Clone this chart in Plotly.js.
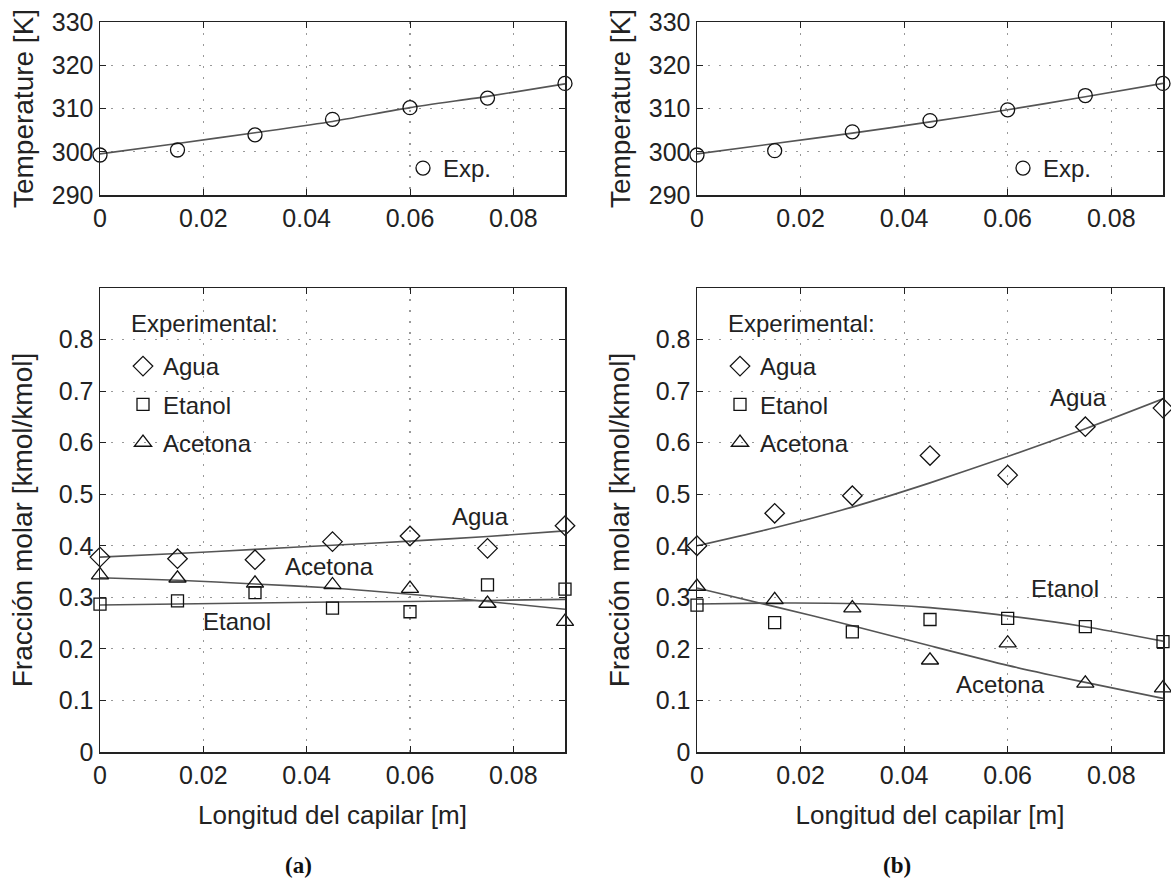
<!DOCTYPE html>
<html>
<head>
<meta charset="utf-8">
<script src="https://cdn.plot.ly/plotly-3.0.1.min.js"></script>
<style>html,body{margin:0;padding:0;background:#fff;}#chart{width:1171px;height:881px;}</style>
</head>
<body>
<div id="chart"></div>
<script>
// ---- data ----
const longitud = [0, 0.015, 0.03, 0.045, 0.06, 0.075, 0.09];

// (a) temperature
const tempExpA = [299.25, 300.4, 303.9, 307.5, 310.2, 312.4, 315.8];
const tempModA = [299.5, 301.9, 304.4, 307.0, 310.2, 312.8, 315.7];
// (b) temperature
const tempExpB = [299.25, 300.25, 304.6, 307.2, 309.7, 313.0, 315.8];
const tempModB = [299.5, 301.9, 304.3, 306.9, 309.7, 312.7, 315.8];

// (a) molar fractions
const aguaExpA    = [0.378, 0.375, 0.373, 0.408, 0.419, 0.395, 0.439];
const etanolExpA  = [0.287, 0.293, 0.309, 0.279, 0.272, 0.324, 0.316];
const acetonaExpA = [0.343, 0.337, 0.327, 0.324, 0.317, 0.288, 0.253];
const aguaModA    = [0.378, 0.385, 0.393, 0.401, 0.409, 0.418, 0.429];
const etanolModA  = [0.285, 0.287, 0.289, 0.291, 0.292, 0.294, 0.296];
const acetonaModA = [0.338, 0.333, 0.326, 0.318, 0.306, 0.292, 0.277];

// (b) molar fractions
const aguaExpB    = [0.400, 0.463, 0.497, 0.575, 0.537, 0.631, 0.667];
const etanolExpB  = [0.285, 0.251, 0.233, 0.257, 0.259, 0.243, 0.214];
const acetonaExpB = [0.321, 0.295, 0.279, 0.178, 0.211, 0.133, 0.124];
const aguaModB    = [0.400, 0.435, 0.475, 0.522, 0.573, 0.627, 0.685];
const etanolModB  = [0.287, 0.289, 0.288, 0.280, 0.264, 0.243, 0.215];
const acetonaModB = [0.318, 0.282, 0.245, 0.206, 0.168, 0.135, 0.104];

const xTicks = [0, 0.02, 0.04, 0.06, 0.08];
const tempTicks = [290, 300, 310, 320, 330];
const fracTicks = [0, 0.1, 0.2, 0.3, 0.4, 0.5, 0.6, 0.7, 0.8];

const nombres = {agua: 'Agua', etanol: 'Etanol', acetona: 'Acetona'};

// ---- styling ----
const FONT = 'Liberation Sans, Arial, Helvetica, sans-serif';
const lineStyle = {color: '#555', width: 1.6, shape: 'spline', smoothing: 0.6};
const mk = (symbol, size) => ({symbol: symbol, size: size, color: '#111', line: {color: '#111', width: 1.3}});

function modelTrace(y, xa, ya) {
  return {x: longitud, y: y, xaxis: xa, yaxis: ya, mode: 'lines', line: lineStyle, showlegend: false, hoverinfo: 'skip'};
}
function expTrace(y, xa, ya, name, symbol, size, legend, group) {
  return {x: longitud, y: y, xaxis: xa, yaxis: ya, mode: 'markers', name: name, cliponaxis: false,
          marker: mk(symbol, size), legend: legend, legendgroup: group, showlegend: true};
}

const data = [
  modelTrace(tempModA, 'x', 'y'),
  expTrace(tempExpA, 'x', 'y', 'Exp.', 'circle-open', 14, 'legend3', 'tA'),
  modelTrace(tempModB, 'x2', 'y2'),
  expTrace(tempExpB, 'x2', 'y2', 'Exp.', 'circle-open', 14, 'legend4', 'tB'),

  modelTrace(aguaModA, 'x3', 'y3'),
  modelTrace(etanolModA, 'x3', 'y3'),
  modelTrace(acetonaModA, 'x3', 'y3'),
  expTrace(aguaExpA, 'x3', 'y3', nombres.agua, 'diamond-open', 15, 'legend', 'aA'),
  expTrace(etanolExpA, 'x3', 'y3', nombres.etanol, 'square-open', 12, 'legend', 'eA'),
  expTrace(acetonaExpA, 'x3', 'y3', nombres.acetona, 'triangle-up-open', 15, 'legend', 'cA'),

  modelTrace(aguaModB, 'x4', 'y4'),
  modelTrace(etanolModB, 'x4', 'y4'),
  modelTrace(acetonaModB, 'x4', 'y4'),
  expTrace(aguaExpB, 'x4', 'y4', nombres.agua, 'diamond-open', 15, 'legend2', 'aB'),
  expTrace(etanolExpB, 'x4', 'y4', nombres.etanol, 'square-open', 12, 'legend2', 'eB'),
  expTrace(acetonaExpB, 'x4', 'y4', nombres.acetona, 'triangle-up-open', 15, 'legend2', 'cB')
];

const W = 1171, H = 881;
const px = v => v / W, py = v => 1 - v / H;

const tickFont = {family: FONT, size: 25, color: '#222'};
const xTitleFont = {family: FONT, size: 26, color: '#222'};
const yTitleFont = {family: FONT, size: 28, color: '#222'};

function xAxis(domain, anchor, withTitle) {
  const ax = {
    domain: domain, anchor: anchor, range: [0, 0.09], tickvals: xTicks,
    showgrid: true, gridcolor: '#999', griddash: '2px,9px', gridwidth: 1.2,
    showline: true, linecolor: '#222', linewidth: 1.5, mirror: 'ticks',
    ticks: 'inside', ticklen: 6, tickcolor: '#222', tickfont: tickFont, zeroline: false
  };
  if (withTitle) ax.title = {text: 'Longitud del capilar [m]', font: xTitleFont, standoff: 18};
  return ax;
}
function yAxis(domain, anchor, range, vals, title, standoff) {
  return {
    domain: domain, anchor: anchor, range: range, tickvals: vals,
    showgrid: true, gridcolor: '#999', griddash: '2px,9px', gridwidth: 1.2,
    showline: true, linecolor: '#222', linewidth: 1.5, mirror: 'ticks',
    ticks: 'inside', ticklen: 6, tickcolor: '#222', tickfont: tickFont, zeroline: false,
    title: {text: title, font: yTitleFont, standoff: standoff}
  };
}

const xL = [px(100), px(565)], xR = [px(697), px(1163)];
const yT = [py(195), py(22)], yB = [py(752), py(288)];

const legendFont = {family: FONT, size: 24, color: '#222'};
const baseLegend = {font: legendFont, bgcolor: 'rgba(0,0,0,0)', borderwidth: 0, xanchor: 'left', yanchor: 'top',
                    itemsizing: 'trace', tracegroupgap: 4};

const annFont = {family: FONT, size: 24, color: '#222'};
const labFont = {family: 'Liberation Serif, Times New Roman, serif', size: 23, color: '#111'};

const layout = {
  width: W, height: H,
  margin: {l: 0, r: 0, t: 0, b: 0},
  paper_bgcolor: '#fff', plot_bgcolor: '#fff',
  font: {family: FONT, color: '#222'},
  xaxis: xAxis(xL, 'y', false),
  yaxis: yAxis(yT, 'x', [290, 330], tempTicks, 'Temperature [K]', 10),
  xaxis2: xAxis(xR, 'y2', false),
  yaxis2: yAxis(yT, 'x2', [290, 330], tempTicks, 'Temperature [K]', 10),
  xaxis3: xAxis(xL, 'y3', true),
  yaxis3: yAxis(yB, 'x3', [0, 0.9], fracTicks, 'Fracción molar [kmol/kmol]', 18),
  xaxis4: xAxis(xR, 'y4', true),
  yaxis4: yAxis(yB, 'x4', [0, 0.9], fracTicks, 'Fracción molar [kmol/kmol]', 18),
  legend: Object.assign({}, baseLegend, {x: px(123), y: py(344)}),
  legend2: Object.assign({}, baseLegend, {x: px(720), y: py(344)}),
  legend3: Object.assign({}, baseLegend, {x: px(403), y: py(146), tracegroupgap: 0}),
  legend4: Object.assign({}, baseLegend, {x: px(1003), y: py(146), tracegroupgap: 0}),
  annotations: [
    {xref: 'paper', yref: 'paper', x: px(129), y: py(323), xanchor: 'left', yanchor: 'middle', text: 'Experimental:', showarrow: false, font: annFont},
    {xref: 'paper', yref: 'paper', x: px(726), y: py(323), xanchor: 'left', yanchor: 'middle', text: 'Experimental:', showarrow: false, font: annFont},
    {xref: 'x3', yref: 'y3', x: 0.0736, y: 0.456, text: nombres.agua, showarrow: false, font: annFont},
    {xref: 'x3', yref: 'y3', x: 0.0445, y: 0.359, text: nombres.acetona, showarrow: false, font: annFont},
    {xref: 'x3', yref: 'y3', x: 0.0265, y: 0.254, text: nombres.etanol, showarrow: false, font: annFont},
    {xref: 'x4', yref: 'y4', x: 0.0736, y: 0.687, text: nombres.agua, showarrow: false, font: annFont},
    {xref: 'x4', yref: 'y4', x: 0.0710, y: 0.318, text: nombres.etanol, showarrow: false, font: annFont},
    {xref: 'x4', yref: 'y4', x: 0.0587, y: 0.130, text: nombres.acetona, showarrow: false, font: annFont},
    {xref: 'paper', yref: 'paper', x: px(298), y: py(865), xanchor: 'center', yanchor: 'middle', text: '<b>(a)</b>', showarrow: false, font: labFont},
    {xref: 'paper', yref: 'paper', x: px(897), y: py(865), xanchor: 'center', yanchor: 'middle', text: '<b>(b)</b>', showarrow: false, font: labFont}
  ]
};

Plotly.newPlot('chart', data, layout, {staticPlot: true, displayModeBar: false});
</script>
</body>
</html>
